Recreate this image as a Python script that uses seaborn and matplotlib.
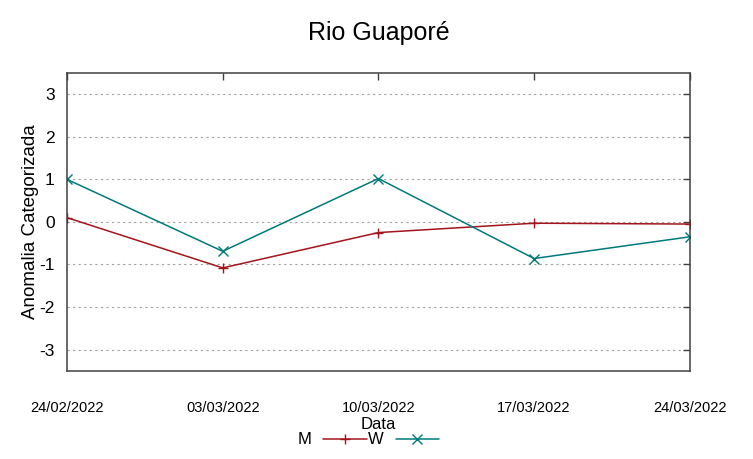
import pandas as pd
import seaborn as sns
import matplotlib.pyplot as plt

# values
datas = ['24/02/2022', '03/03/2022', '10/03/2022', '17/03/2022', '24/03/2022']
m_vals = [0.1, -1.08, -0.25, -0.03, -0.05]
w_vals = [1.0, -0.69, 1.02, -0.86, -0.35]

df = pd.DataFrame({
    'Data': datas * 2,
    'valor': m_vals + w_vals,
    'serie': ['M'] * len(datas) + ['W'] * len(datas),
})

sns.set_style('white')
plt.rcParams['font.family'] = ['Liberation Sans', 'DejaVu Sans']
plt.rcParams['axes.unicode_minus'] = False
plt.rcParams['text.color'] = 'black'
plt.rcParams['axes.labelcolor'] = 'black'
plt.rcParams['xtick.color'] = 'black'
plt.rcParams['ytick.color'] = 'black'

fig = plt.figure(figsize=(7.53, 4.59), dpi=100)
ax = fig.add_axes([0.089, 0.192, 0.827, 0.649])

cores = {'M': '#a3141c', 'W': '#00797a'}
marcas = {'M': '+', 'W': 'x'}
for nome, sub in df.groupby('serie'):
    sns.lineplot(data=sub, x='Data', y='valor', ax=ax, color=cores[nome],
                 marker=marcas[nome], markersize=6.5, markeredgewidth=1.0,
                 markeredgecolor=cores[nome],
                 linewidth=1.1, label=nome, sort=False)

ax.set_xlim(0, len(datas) - 1)
ax.set_ylim(-3.5, 3.5)
ax.set_yticks([-3, -2, -1, 0, 1, 2, 3])
ax.yaxis.grid(True, linestyle=(0, (2, 3)), color='#a0a0a0', linewidth=0.8)
ax.xaxis.grid(False)

ax.tick_params(axis='both', direction='in', length=5, width=1, color='#404040',
               top=True, right=True)
ax.tick_params(axis='y', labelsize=12.5, pad=9)
ax.tick_params(axis='x', labelsize=10.5, pad=22)
for s in ax.spines.values():
    s.set_color('#404040')
    s.set_linewidth(1.1)

ax.set_ylabel('Anomalia Categorizada', fontsize=13.5, labelpad=0)
ax.set_xlabel('Data', fontsize=12, labelpad=1)
ax.set_title('Rio Guaporé', fontsize=18, pad=24)

leg = ax.legend(loc='center', bbox_to_anchor=(0.484, -0.232), ncol=2,
                frameon=False, markerfirst=False, handlelength=2.6,
                columnspacing=0.1, handletextpad=0.7, borderaxespad=0,
                prop={'size': 12})

fig.savefig('out.png', dpi=100)
